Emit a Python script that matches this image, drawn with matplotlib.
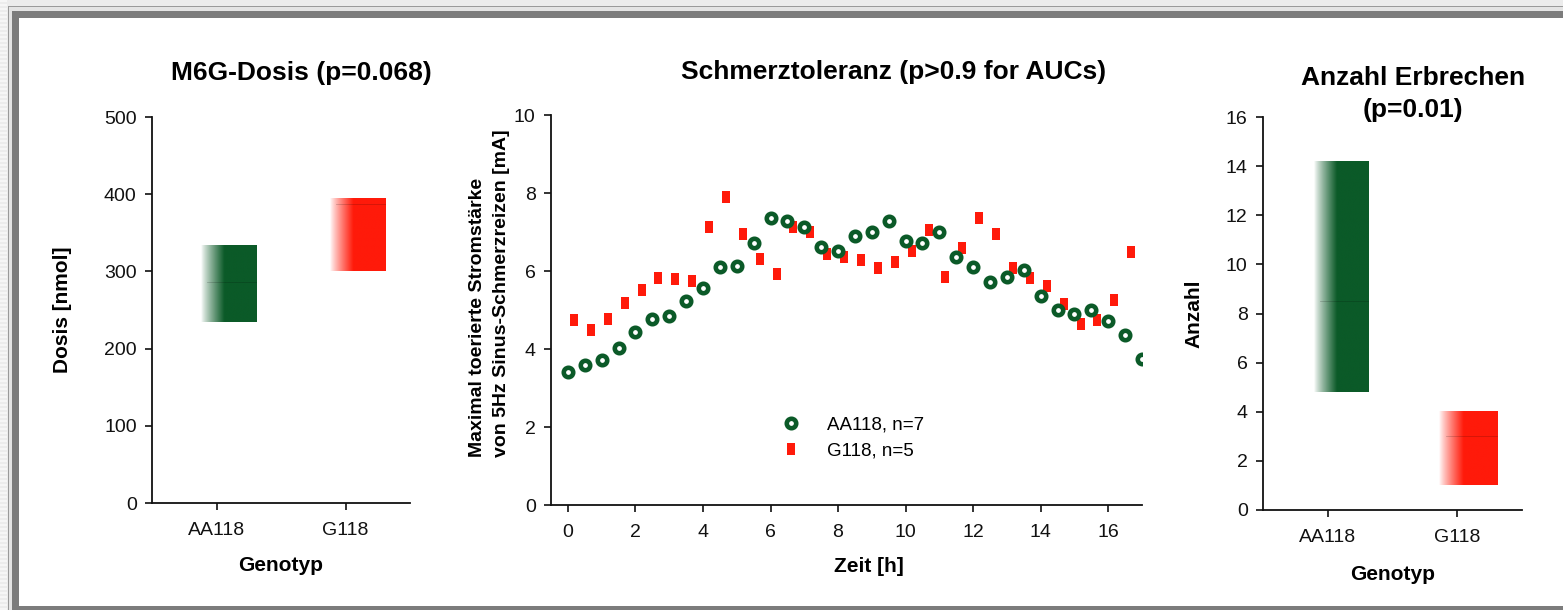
import numpy as np
import matplotlib
matplotlib.use("Agg")
import matplotlib.pyplot as plt
from matplotlib.colors import LinearSegmentedColormap
from matplotlib.patches import Rectangle

# ---------------- data ----------------
genotypes = ["AA118", "G118"]

dose_low = [235, 300]
dose_high = [334, 394]
dose_median = [286, 387]

vomit_low = [4.8, 1.0]
vomit_high = [14.2, 4.0]
vomit_median = [8.5, 3.0]

time_aa = [0, 0.5, 1, 1.5, 2, 2.5, 3, 3.5, 4, 4.5, 5, 5.5, 6, 6.5, 7, 7.5, 8,
           8.5, 9, 9.5, 10, 10.5, 11, 11.5, 12, 12.5, 13, 13.5, 14, 14.5, 15,
           15.5, 16, 16.5, 17]
tol_aa = [3.42, 3.59, 3.72, 4.02, 4.44, 4.76, 4.85, 5.23, 5.56, 6.11, 6.14,
          6.73, 7.35, 7.29, 7.14, 6.62, 6.52, 6.90, 7.01, 7.27, 6.78, 6.73,
          7.01, 6.37, 6.11, 5.71, 5.85, 6.03, 5.37, 5.00, 4.90, 5.00, 4.72,
          4.36, 3.74]

time_g = [0, 0.5, 1, 1.5, 2, 2.5, 3, 3.5, 4, 4.5, 5, 5.5, 6, 6.5, 7, 7.5, 8,
          8.5, 9, 9.5, 10, 10.5, 11, 11.5, 12, 12.5, 13, 13.5, 14, 14.5, 15,
          15.5, 16, 16.5]
tol_g = [4.74, 4.49, 4.76, 5.17, 5.51, 5.83, 5.79, 5.74, 7.12, 7.91, 6.94,
         6.32, 5.92, 7.14, 6.99, 6.44, 6.36, 6.28, 6.08, 6.24, 6.51, 7.05,
         5.84, 6.58, 7.37, 6.94, 6.08, 5.83, 5.62, 5.15, 4.63, 4.74, 5.26,
         6.49]

legend_labels = ["AA118, n=7", "G118, n=5"]

# ---------------- style ----------------
GREEN = "#0b5a28"
RED = "#ff1a0a"
FONT = ["Liberation Sans", "DejaVu Sans"]
plt.rcParams["font.family"] = FONT

W, H = 1563, 610
fig = plt.figure(figsize=(W / 100, H / 100), dpi=100)
fig.patch.set_facecolor("#ececec")


def fr(x0, y0, x1, y1):
    """pixel box (top-left origin) -> figure fraction rect"""
    return [x0 / W, 1 - y1 / H, (x1 - x0) / W, (y1 - y0) / H]


# frame
def prect(x0, y0, x1, y1, color):
    r = fr(x0, y0, x1, y1)
    fig.patches.append(Rectangle((r[0], r[1]), r[2], r[3], transform=fig.transFigure,
                                 facecolor=color, edgecolor="none", zorder=-10))

prect(8, 6, W, 610, "#9a9a9a")
prect(9, 7, W, 610, "#e4e4e4")
prect(12, 11, W, 610, "#7c7c7c")
prect(19, 18, W, 606, "white")
for yy in range(0, H, 4):
    prect(0, yy, 7, yy + 2, "#f6f6f6")


def grad_bar(ax, xc, lo, hi, med, color, left=-0.12, right=0.31):
    n = 200
    t = np.linspace(0, 1, n)
    prof = np.clip(t / 0.42, 0, 1) ** 0.85
    img = np.tile(prof, (2, 1))
    cmap = LinearSegmentedColormap.from_list("g", ["white", color])
    ax.imshow(img, extent=[xc + left, xc + right, lo, hi], aspect="auto",
              cmap=cmap, vmin=0, vmax=1, interpolation="bilinear", zorder=2)
    ax.plot([xc + left + 0.05, xc + right], [med, med], color="black",
            lw=0.6, alpha=0.18, zorder=3)


def style_ax(ax):
    for s in ["top", "right"]:
        ax.spines[s].set_visible(False)
    for s in ["left", "bottom"]:
        ax.spines[s].set_linewidth(1.3)
        ax.spines[s].set_color("#111111")
    ax.tick_params(axis="both", direction="out", length=5, width=1.2,
                   labelsize=14, colors="#111111")
    ax.tick_params(axis="y", pad=6)
    ax.tick_params(axis="x", pad=9)
    ax.set_facecolor("none")


LABEL = dict(fontweight="bold", fontsize=15)
TITLE = dict(fontweight="bold", fontsize=19)

# ---------- left panel ----------
ax1 = fig.add_axes(fr(152, 117, 410, 503))
for i in range(2):
    grad_bar(ax1, i, dose_low[i], dose_high[i], dose_median[i], GREEN if i == 0 else RED)
ax1.set_xlim(-0.5, 1.5)
ax1.set_ylim(0, 500)
ax1.set_yticks(range(0, 501, 100))
ax1.set_xticks([0, 1])
ax1.set_xticklabels(genotypes)
style_ax(ax1)
ax1.set_ylabel("Dosis [nmol]", labelpad=23, **LABEL)
ax1.set_xlabel("Genotyp", labelpad=12, **LABEL)
ax1.text(0.58, 1.115, "M6G-Dosis (p=0.068)", transform=ax1.transAxes, ha="center",
         va="center", **TITLE)

# ---------- middle panel ----------
ax2 = fig.add_axes(fr(551, 115, 1142, 505))
ring = ax2.plot(time_aa, tol_aa, linestyle="none", marker="o", ms=6.8, mew=3.3,
                mec=GREEN, mfc="white", zorder=4, label=legend_labels[0])[0]
rect_marker = [(-0.3, -0.5), (0.3, -0.5), (0.3, 0.5), (-0.3, 0.5), (-0.3, -0.5)]
sq = ax2.plot(np.array(time_g) + 0.18, tol_g, linestyle="none", marker=rect_marker,
              ms=8.5, mew=0, color=RED, zorder=3, label=legend_labels[1])[0]
ax2.set_xlim(-0.5, 17)
ax2.set_ylim(0, 10)
ax2.set_xticks(range(0, 17, 2))
ax2.set_yticks(range(0, 11, 2))
style_ax(ax2)
ax2.set_ylabel("Maximal toerierte Stromstärke\nvon 5Hz Sinus-Schmerzreizen [mA]",
               fontweight="bold", fontsize=14, labelpad=3, linespacing=1.55,
               multialignment="left", y=0.542)
ax2.set_xlabel("Zeit [h]", labelpad=11, x=0.538, **LABEL)
ax2.text(0.58, 1.11, "Schmerztoleranz (p>0.9 for AUCs)", transform=ax2.transAxes,
         ha="center", va="center", **TITLE)
leg = ax2.legend(handles=[ring, sq], loc="upper left", bbox_to_anchor=(0.345, 0.27),
                 frameon=False, handletextpad=0.95, labelspacing=0.45,
                 prop={"size": 13.5})

# ---------- right panel ----------
ax3 = fig.add_axes(fr(1263, 117, 1522, 510))
for i in range(2):
    grad_bar(ax3, i, vomit_low[i], vomit_high[i], vomit_median[i], GREEN if i == 0 else RED,
             left=-0.11 if i == 0 else -0.14)
ax3.set_xlim(-0.5, 1.5)
ax3.set_ylim(0, 16)
ax3.set_yticks(range(0, 17, 2))
ax3.set_xticks([0, 1])
ax3.set_xticklabels(genotypes)
style_ax(ax3)
ax3.set_ylabel("Anzahl", labelpad=16, **LABEL)
ax3.set_xlabel("Genotyp", labelpad=13, **LABEL)
ax3.text(0.58, 1.058, "Anzahl Erbrechen\n(p=0.01)", transform=ax3.transAxes,
         ha="center", va="center", linespacing=1.45, **TITLE)

fig.savefig("out.png", dpi=100, facecolor=fig.get_facecolor())
